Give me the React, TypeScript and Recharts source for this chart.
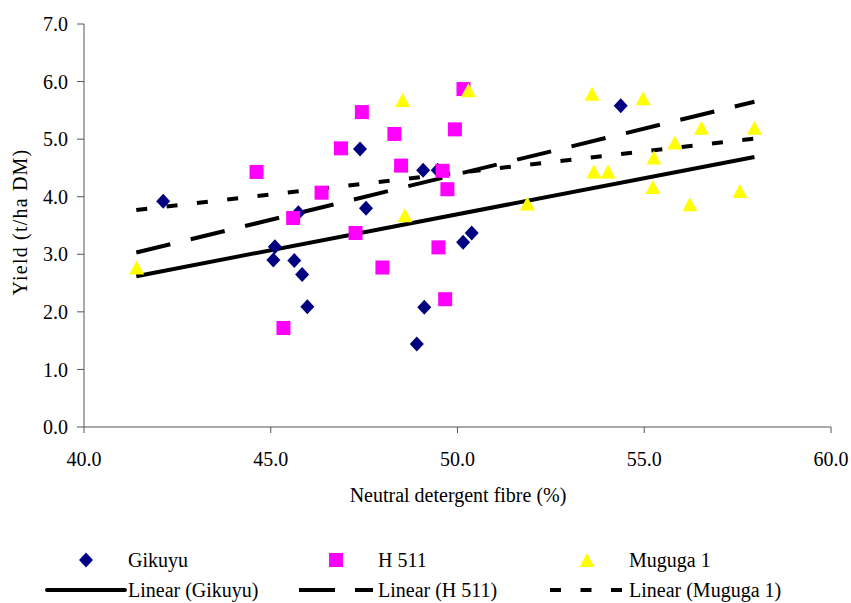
import React from 'react'
import { ScatterChart, Scatter, XAxis, YAxis, ReferenceLine } from 'recharts'

// NDF (%) vs yield (t/ha DM)
const gikuyuX = [42.12, 45.11, 45.07, 45.63, 45.84, 45.98, 45.74, 47.39, 47.55, 49.08, 49.47, 50.15, 50.38, 49.11, 48.91, 54.37]
const gikuyuY = [3.92, 3.13, 2.90, 2.89, 2.65, 2.09, 3.72, 4.83, 3.80, 4.46, 4.46, 3.21, 3.37, 2.08, 1.44, 5.58]

const h511X = [44.62, 45.60, 46.36, 45.34, 47.44, 48.31, 46.88, 48.49, 47.27, 47.99, 49.49, 49.67, 49.60, 49.73, 49.93, 50.16]
const h511Y = [4.43, 3.63, 4.07, 1.72, 5.47, 5.09, 4.84, 4.54, 3.37, 2.77, 3.12, 2.22, 4.45, 4.13, 5.17, 5.87]

const mugugaX = [41.41, 48.53, 48.59, 50.29, 53.60, 54.97, 51.87, 53.65, 54.03, 55.26, 55.23, 55.82, 56.22, 56.53, 57.56, 57.95]
const mugugaY = [2.77, 5.68, 3.68, 5.85, 5.79, 5.71, 3.88, 4.44, 4.44, 4.68, 4.17, 4.94, 3.87, 5.20, 4.10, 5.20]

// linear trendline end points
const trendX = [41.4, 57.95]
const trendGikuyu = [2.62, 4.69]
const trendH511 = [3.03, 5.65]
const trendMuguga = [3.77, 5.01]

const xTicks = [40, 45, 50, 55, 60]
const yTicks = [0, 1, 2, 3, 4, 5, 6, 7]

const FONT = 'Liberation Serif, Times New Roman, DejaVu Serif, serif'
const NAVY = '#000080'
const MAGENTA = '#FF00FF'
const YELLOW = '#FFFF00'

const pts = (xs: number[], ys: number[]) => xs.map((x, i) => ({ x, y: ys[i] }))
const seg = (ys: number[]) => [{ x: trendX[0], y: ys[0] }, { x: trendX[1], y: ys[1] }]

const Diamond = ({ cx, cy }: any) => (
  <polygon points={`${cx},${cy - 7.5} ${cx + 7},${cy} ${cx},${cy + 7.5} ${cx - 7},${cy}`} fill={NAVY} />
)
const Square = ({ cx, cy }: any) => <rect x={cx - 7} y={cy - 7} width={14} height={14} fill={MAGENTA} />
const Triangle = ({ cx, cy }: any) => (
  <polygon points={`${cx},${cy - 7} ${cx + 7.5},${cy + 7} ${cx - 7.5},${cy + 7}`} fill={YELLOW} />
)

const tick = { fontSize: 20, fill: '#000', style: { fontFamily: FONT } }
const fmt = (v: number) => v.toFixed(1)

export default function App() {
  return (
    <div style={{ position: 'absolute', left: 0, top: 0, width: 851, height: 603, background: '#fff', fontFamily: FONT }}>
      <ScatterChart width={851} height={603} margin={{ top: 24, right: 20, bottom: 0, left: 0 }} style={{ fontFamily: FONT }}>
        <XAxis
          type="number" dataKey="x" domain={[40, 60]} ticks={xTicks} tickFormatter={fmt}
          height={176} tick={tick} tickSize={6} tickMargin={19}
          axisLine={{ stroke: '#555' }} tickLine={{ stroke: '#555' }} allowDataOverflow
        />
        <YAxis
          type="number" dataKey="y" domain={[0, 7]} ticks={yTicks} tickFormatter={fmt}
          width={84} tick={tick} tickSize={7} tickMargin={9}
          axisLine={{ stroke: '#555' }} tickLine={{ stroke: '#555' }} allowDataOverflow
        />
        <Scatter name="Gikuyu" data={pts(gikuyuX, gikuyuY)} shape={Diamond} isAnimationActive={false} />
        <Scatter name="H 511" data={pts(h511X, h511Y)} shape={Square} isAnimationActive={false} />
        <Scatter name="Muguga 1" data={pts(mugugaX, mugugaY)} shape={Triangle} isAnimationActive={false} />
        <ReferenceLine segment={seg(trendGikuyu)} stroke="#000" strokeWidth={4} ifOverflow="visible" />
        <ReferenceLine segment={seg(trendH511)} stroke="#000" strokeWidth={4} strokeDasharray="35 21" ifOverflow="visible" />
        <ReferenceLine segment={seg(trendMuguga)} stroke="#000" strokeWidth={4} strokeDasharray="11 19.5" ifOverflow="visible" />
      </ScatterChart>

      {/* titles and legend */}
      <svg width={851} height={603} style={{ position: 'absolute', left: 0, top: 0, pointerEvents: 'none', fontFamily: FONT }}
        fontSize={20} fill="#000">
        <text x={458} y={502} textAnchor="middle">Neutral detergent fibre (%)</text>
        <text transform="translate(27,222) rotate(-90)" textAnchor="middle" letterSpacing={1.2}>Yield (t/ha DM)</text>

        <Diamond cx={86} cy={560} />
        <text x={128} y={567}>Gikuyu</text>
        <Square cx={336} cy={560} />
        <text x={378} y={567}>H 511</text>
        <Triangle cx={587} cy={560} />
        <text x={629} y={567}>Muguga 1</text>

        <line x1={47} y1={590} x2={125} y2={590} stroke="#000" strokeWidth={4} strokeLinecap="round" />
        <text x={128} y={597}>Linear (Gikuyu)</text>
        <line x1={299} y1={590} x2={373} y2={590} stroke="#000" strokeWidth={4} strokeDasharray="36 20" />
        <text x={378} y={597}>Linear (H 511)</text>
        <line x1={550} y1={590} x2={622} y2={590} stroke="#000" strokeWidth={4} strokeDasharray="11 19.5" />
        <text x={629} y={597}>Linear (Muguga 1)</text>
      </svg>
    </div>
  )
}
